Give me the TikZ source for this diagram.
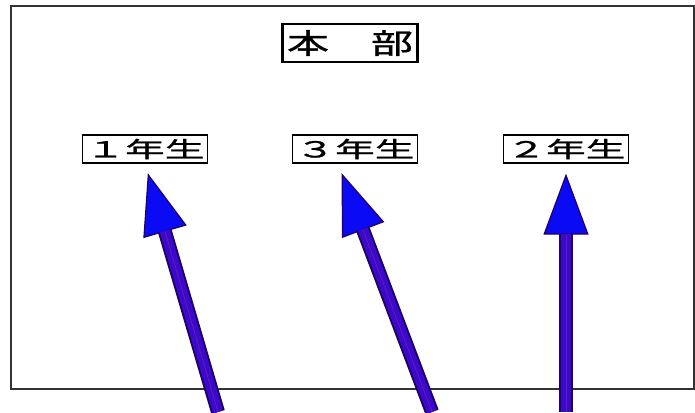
\documentclass[tikz,border=0pt]{standalone}
\usepackage{fontspec}
\usepackage{tikz}
\usetikzlibrary{arrows.meta, positioning}
\newfontfamily\titleFont[FakeStretch=1.5, FakeBold=1.2]{Noto Sans CJK JP}
\newfontfamily\gradeFont[FakeStretch=1.8, FakeBold=1.2]{Noto Sans CJK JP}
\definecolor{frameGray}{gray}{0.2}
\definecolor{arrowBlue}{RGB}{10,10,245}
\definecolor{arrowCore}{RGB}{55,10,205}
\definecolor{arrowEdge}{RGB}{35,0,100}
\definecolor{arrowMid}{RGB}{120,20,170}

\tikzset{
    headBox/.style={draw=black, line width=2.8pt, fill=white, inner sep=0pt,
        minimum width=135pt, minimum height=38pt, font=\titleFont\fontsize{28}{28}\selectfont},
    gradeBox/.style={draw=black, line width=1.3pt, fill=white, inner sep=0pt,
        minimum width=125pt, minimum height=28pt, font=\gradeFont\fontsize{22}{22}\selectfont},
    moveOuter/.style={line width=14pt, draw=arrowEdge, shorten >=10pt,
        -{Triangle[length=61pt, width=45pt, fill=arrowBlue, line width=1.2pt]}},
    moveInner/.style={line width=10pt, draw=arrowCore, shorten >=70pt},
    moveMid/.style={line width=0.8pt, draw=arrowMid, shorten >=71pt},
}

\begin{document}
\begin{tikzpicture}[x=1pt, y=-1pt]
    \useasboundingbox (0,0) rectangle (695,412);
    \fill[white] (0,0) rectangle (695,412);
    \draw[frameGray, line width=2pt] (11,6) rectangle (694,389);

    \node[headBox] (honbu) at (350,43) {本　部};
    \foreach \name/\x/\txt in {n1/145/１年生, n3/355/３年生, n2/566/２年生} {
        \node[gradeBox] (\name) at (\x,149) {\txt};
    }

    \coordinate (b1) at (218,412);
    \coordinate (b3) at (432,412);
    \coordinate (b2) at (566,412);
    \foreach \pass in {moveOuter, moveInner, moveMid} {
        \draw[\pass] (b1) -- (n1.south);
        \draw[\pass] (b3) -- ([xshift=-17pt]n3.south);
        \draw[\pass] (b2) -- (n2.south);
    }
\end{tikzpicture}
\end{document}
